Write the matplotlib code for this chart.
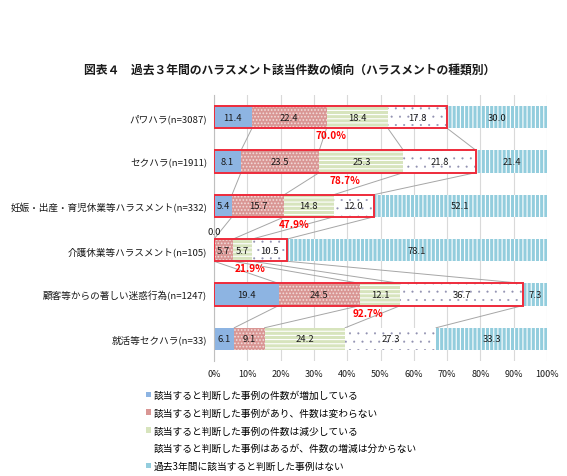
import numpy as np
import matplotlib.pyplot as plt
from matplotlib.patches import Rectangle, Patch

plt.rcParams['font.family'] = ['Noto Sans CJK JP', 'DejaVu Sans']

title = '図表４　過去３年間のハラスメント該当件数の傾向（ハラスメントの種類別）'
categories = ['パワハラ(n=3087)', 'セクハラ(n=1911)',
              '妊娠・出産・育児休業等ハラスメント(n=332)',
              '介護休業等ハラスメント(n=105)',
              '顧客等からの著しい迷惑行為(n=1247)',
              '就活等セクハラ(n=33)']
increased = [11.4, 8.1, 5.4, 0.0, 19.4, 6.1]
unchanged = [22.4, 23.5, 15.7, 5.7, 24.5, 9.1]
decreased = [18.4, 25.3, 14.8, 5.7, 12.1, 24.2]
unknown = [17.8, 21.8, 12.0, 10.5, 36.7, 27.3]
no_case = [30.0, 21.4, 52.1, 78.1, 7.3, 33.3]
boxed = [True, True, True, True, True, False]
legend_labels = ['該当すると判断した事例の件数が増加している',
                 '該当すると判断した事例があり、件数は変わらない',
                 '該当すると判断した事例の件数は減少している',
                 '該当すると判断した事例はあるが、件数の増減は分からない',
                 '過去3年間に該当すると判断した事例はない']
xticks = list(range(0, 101, 10))

series = [increased, unchanged, decreased, unknown, no_case]
styles = [
    dict(facecolor='#8db4e2', edgecolor='#8db4e2', hatch=None),
    dict(facecolor='#d99694', edgecolor='#f2dcdb', hatch='.....'),
    dict(facecolor='#d7e4bd', edgecolor='white', hatch='----'),
    dict(facecolor='white', edgecolor='#9090b0', hatch='..'),
    dict(facecolor='#93cddd', edgecolor='white', hatch='||||'),
]
hatch_lw = [0.8, 0.8, 0.8, 0.25, 0.8]
legend_colors = ['#8db4e2', '#d99694', '#d7e4bd', 'white', '#93cddd']

fig = plt.figure(figsize=(5.67, 4.77), dpi=100)
ax = fig.add_axes([214 / 567, 1 - 362 / 477, 333 / 567, 266 / 477])

y = np.arange(len(categories))
h = 0.5
left = np.zeros(len(categories))
bounds = []
for vals, st, hlw in zip(series, styles, hatch_lw):
    vals = np.array(vals)
    with plt.rc_context({'hatch.linewidth': hlw}):
        ax.barh(y, vals, left=left, height=h, linewidth=0, zorder=2, **st)
    for i, v in enumerate(vals):
        if v > 0:
            ax.text(left[i] + v / 2, y[i], f'{v:.1f}', ha='center', va='center',
                    fontsize=6.8, color='#1a1a1a', zorder=5)
        else:
            ax.text(left[i], y[i] - 0.43, f'{v:.1f}', ha='center', va='center',
                    fontsize=6.8, color='#1a1a1a', zorder=5)
    left = left + vals
    bounds.append(left.copy())

# series lines between adjacent bars
for cum in bounds[:4]:
    for i in range(len(categories) - 1):
        ax.plot([cum[i], cum[i + 1]], [y[i] + h / 2, y[i + 1] - h / 2],
                color='#a6a6a6', lw=0.7, zorder=1)

# red boxes around "any case" share
any_share = bounds[3]
for i in range(len(categories)):
    if boxed[i]:
        ax.add_patch(Rectangle((0, y[i] - h / 2), any_share[i], h, fill=False,
                               edgecolor='#ee2b3b', lw=1.4, zorder=4))
        ax.text(any_share[i] / 2, y[i] + 0.41, f'{any_share[i]:.1f}%',
                ha='center', va='center', fontsize=7.2, fontweight='bold',
                color='#ff0000', zorder=5)

ax.set_xlim(0, 100)
ax.set_ylim(len(categories) - 0.5, -0.5)
ax.set_yticks(y)
ax.set_yticklabels(categories, fontsize=6.9, color='#1a1a1a')
ax.set_xticks(xticks)
ax.set_xticklabels([f'{t}%' for t in xticks], fontsize=6.5, color='#1a1a1a')
ax.tick_params(length=0)
ax.tick_params(axis='y', pad=5)
ax.tick_params(axis='x', pad=5.5)
ax.grid(axis='x', color='#d9d9d9', lw=0.8, zorder=0)
ax.set_axisbelow(True)
for s in ['top', 'right', 'bottom']:
    ax.spines[s].set_visible(False)
ax.spines['left'].set_color('#bfbfbf')
ax.spines['left'].set_linewidth(0.8)

fig.text(290 / 567, 1 - 70 / 477, title, ha='center', va='center',
         fontsize=8.5, fontweight='bold', color='#1a1a1a')

handles = [Patch(facecolor=c, edgecolor='none') for c in legend_colors]
fig.legend(handles, legend_labels, loc='upper left',
           bbox_to_anchor=(141 / 567, 1 - 386 / 477), frameon=False,
           fontsize=7, handlelength=0.5, handleheight=0.5, handletextpad=0.3,
           labelspacing=0.8, borderpad=0)

fig.savefig('out.png', dpi=100)
